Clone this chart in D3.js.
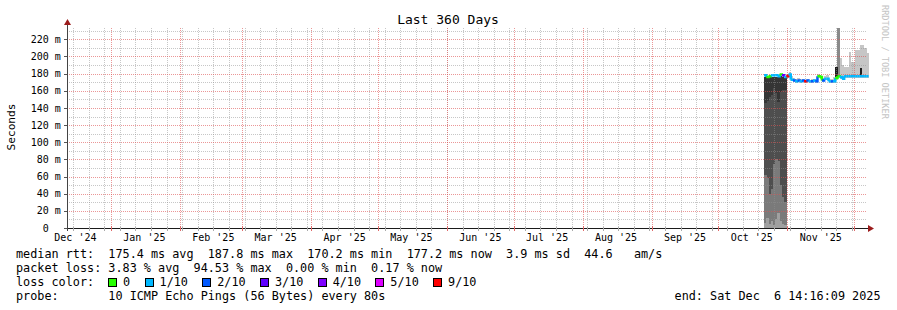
<!DOCTYPE html>
<html>
<head>
<meta charset="utf-8">
<script src="https://cdn.jsdelivr.net/npm/d3@7"></script>
<style>
  body { margin: 0; background: #fff; }
  text { font-family: "DejaVu Sans Mono", monospace; fill: #000; white-space: pre; }
</style>
</head>
<body>
<div id="chart"></div>
<script>
/* Axis ticks and labels */
const yTicks = [0, 20, 40, 60, 80, 100, 120, 140, 160, 180, 200, 220];
const yMinor = [10, 30, 50, 70, 90, 110, 130, 150, 170, 190, 210, 230];

/* Loss colour legend */
const lossLevels = [0, 1, 2, 3, 4, 5, 9];
const lossColors = ["#26ff00", "#00b8ff", "#0059ff", "#5e00ff", "#7e00ff", "#dd00ff", "#ff0000"];
const lossLabels = ["0", "1/10", "2/10", "3/10", "4/10", "5/10", "9/10"];

/* Daily samples from Oct 21 2025 (ms) */
const firstSample = new Date(2025, 9, 21, 12);
const medianRtt = [178, 176, 177, 178, 178, 178, 177, 179, 178, 176,
                   177, 179, 173, 172, 171, 172, 171, 172, 171, 172,
                   171, 171, 172, 171, 177, 176, 172, 174, 174, 171,
                   171, 171, 175, 177, 176, 174, 177, 177, 177, 177,
                   177, 177, 177, 177, 177, 177, 177];
const lossTenths = [1, 0, 0, 1, 1, 1, 1, 0, 3, 1,
                    9, 1, 1, 2, 1, 2, 1, 2, 9, 2,
                    1, 2, 1, 2, 0, 0, 2, 1, 1, 1,
                    2, 1, 0, 0, 1, 1, 1, 1, 1, 1,
                    1, 1, 1, 1, 1, 1, 1];

/* Outage block (first 10 samples) */
const blockTop       = [176, 175, 176, 176, 176, 176, 176, 177, 176, 175];
const blockDarkFloor = [146, 148, 153, 155, 163, 157, 147, 158, 161, 161];
const blockLight     = [62, 58, 40, 45, 75, 80, 78, 50, 36, 30];
const blockFloor     = [6, 12, 5, 8, 4, 10, 18, 8, 5, 4];

/* Smoke band around the median */
const smokeLo = [null, null, null, null, null, null, null, null, null, null,
                 175, 176, 171, 170, 169, 170, 169, 170, 169, 170,
                 169, 169, 170, 169, 175, 174, 170, 172, 172, 169,
                 169, 169, 173, 175, 174, 172, 175, 175, 175, 175,
                 175, 175, 175, 175, 175, 175, 175];
const smokeHi = [null, null, null, null, null, null, null, null, null, null,
                 180, 182, 177, 175, 174, 175, 174, 174, 173, 174,
                 173, 174, 174, 173, 179, 178, 175, 177, 178, 174,
                 174, 176, 180, 198, 198, 190, 188, 188, 205, 193,
                 193, 207, 207, 213, 213, 210, 204];
const spikeLo = [null, null, null, null, null, null, null, null, null, null,
                 null, null, null, null, null, null, null, null, null, null,
                 null, null, null, null, null, null, null, null, null, null,
                 null, null, 176, 178, null, null, null, null, null, null,
                 null, null, null, 177, null, null, null];
const spikeHi = [null, null, null, null, null, null, null, null, null, null,
                 null, null, null, null, null, null, null, null, null, null,
                 null, null, null, null, null, null, null, null, null, null,
                 null, null, 188, 233, null, null, null, null, null, null,
                 null, null, null, 186, null, null, null];

const width = 897, height = 310;
const plot = { left: 67, right: 867, top: 28, bottom: 228 };
const tStart = new Date(2024, 11, 12, 5, 20);
const tEnd = new Date(2025, 11, 6, 18, 30);

const svg = d3.select("#chart").append("svg")
  .attr("width", width)
  .attr("height", height);

svg.append("rect").attr("width", width).attr("height", height).attr("fill", "#fff");

const x = d3.scaleTime().domain([tStart, tEnd]).range([plot.left, plot.right]);
const y = d3.scaleLinear().domain([0, 233.2]).range([plot.bottom, plot.top]);

const samples = medianRtt.map((v, i) => ({
  t0: d3.timeDay.offset(firstSample, i),
  t1: d3.timeDay.offset(firstSample, i + 1),
  median: v,
  loss: lossTenths[i],
  i
}));

/* Title */
svg.append("text")
  .attr("x", 448).attr("y", 24)
  .attr("text-anchor", "middle")
  .attr("font-size", "13px")
  .text("Last 360 Days");

/* Watermark */
svg.append("text")
  .attr("transform", "translate(882,5) rotate(90)")
  .attr("font-size", "8.6px")
  .style("fill", "#c4c4c4")
  .text("RRDTOOL / TOBI OETIKER");

/* Y label */
svg.append("text")
  .attr("transform", "translate(15,127) rotate(-90)")
  .attr("text-anchor", "middle")
  .attr("font-size", "11.2px")
  .text("Seconds");

/* Data: outage block and smoke */
const g = svg.append("g").attr("shape-rendering", "crispEdges");

const band = (rows, lo, hi, color) => {
  g.append("g").selectAll("rect")
    .data(rows.filter(d => lo(d) != null && hi(d) != null))
    .join("rect")
      .attr("x", d => x(d.t0))
      .attr("width", d => x(d.t1) - x(d.t0) + 0.3)
      .attr("y", d => y(hi(d)))
      .attr("height", d => y(lo(d)) - y(hi(d)))
      .attr("fill", color);
};

const block = samples.slice(0, blockTop.length);
band(block, d => 0, d => blockTop[d.i], "#4e4e4e");
band(block, d => blockDarkFloor[d.i], d => blockTop[d.i], "#353535");
band(block, d => 0, d => blockLight[d.i], "#7a7a7a");
band(block, d => 0, d => blockFloor[d.i], "#a0a0a0");

band(samples, d => smokeLo[d.i], d => smokeHi[d.i], "#c6c6c6");
band(samples.filter(d => d.i !== 32 && d.i !== 43), d => spikeLo[d.i], d => spikeHi[d.i], "#8a8a8a");
band(samples.filter(d => d.i === 32 || d.i === 43), d => spikeLo[d.i], d => spikeHi[d.i], "#1e1e1e");

/* Grid */
const grid = svg.append("g").attr("shape-rendering", "crispEdges").attr("stroke-dasharray", "1,1");
const minorColor = "rgba(143,143,143,0.5)";
const majorColor = "rgba(222,81,81,0.6)";

grid.selectAll(".vminor")
  .data(d3.timeSunday.range(tStart, tEnd))
  .join("line")
    .attr("x1", d => Math.round(x(d)) + 0.5).attr("x2", d => Math.round(x(d)) + 0.5)
    .attr("y1", plot.top).attr("y2", plot.bottom)
    .attr("stroke", minorColor);

grid.selectAll(".hminor")
  .data(yMinor)
  .join("line")
    .attr("x1", plot.left).attr("x2", plot.right)
    .attr("y1", d => Math.round(y(d)) + 0.5).attr("y2", d => Math.round(y(d)) + 0.5)
    .attr("stroke", minorColor);

grid.selectAll(".vmajor")
  .data(d3.timeMonth.range(tStart, tEnd))
  .join("line")
    .attr("x1", d => Math.round(x(d)) + 0.5).attr("x2", d => Math.round(x(d)) + 0.5)
    .attr("y1", plot.top).attr("y2", plot.bottom)
    .attr("stroke", majorColor);

grid.selectAll(".hmajor")
  .data(yTicks.filter(d => d > 0))
  .join("line")
    .attr("x1", plot.left).attr("x2", plot.right)
    .attr("y1", d => Math.round(y(d)) + 0.5).attr("y2", d => Math.round(y(d)) + 0.5)
    .attr("stroke", majorColor);

/* Median line coloured by loss */
const stepLine = d3.line().x(d => d[0]).y(d => d[1]).curve(d3.curveStepAfter);
svg.append("g").selectAll("path")
  .data(samples)
  .join("path")
    .attr("d", d => {
      const next = samples[d.i + 1];
      const pts = [[x(d.t0), y(d.median)], [x(d.t1), next ? y(next.median) : y(d.median)]];
      return stepLine(pts);
    })
    .attr("fill", "none")
    .attr("stroke-width", 2.5)
    .attr("stroke", d => lossColors[lossLevels.indexOf(d.loss)]);

/* Axes */
const axes = svg.append("g").attr("shape-rendering", "crispEdges");
axes.append("line")
  .attr("x1", plot.left - 3).attr("x2", plot.right + 2)
  .attr("y1", plot.bottom + 0.5).attr("y2", plot.bottom + 0.5)
  .attr("stroke", "#1a1a1a");
axes.append("line")
  .attr("x1", plot.left + 0.5).attr("x2", plot.left + 0.5)
  .attr("y1", plot.bottom + 3).attr("y2", plot.top - 4)
  .attr("stroke", "#444");

svg.append("path")
  .attr("d", `M${plot.right + 1},${plot.bottom - 3}L${plot.right + 7},${plot.bottom + 0.5}L${plot.right + 1},${plot.bottom + 4}Z`)
  .attr("fill", "#9b1c1c");
svg.append("path")
  .attr("d", `M${plot.left - 3},${plot.top - 3}L${plot.left + 0.5},${plot.top - 9}L${plot.left + 4},${plot.top - 3}Z`)
  .attr("fill", "#9b1c1c");

/* Axis ticks */
axes.selectAll(".yt")
  .data(yTicks)
  .join("line")
    .attr("x1", plot.left - 3).attr("x2", plot.left)
    .attr("y1", d => Math.round(y(d)) + 0.5).attr("y2", d => Math.round(y(d)) + 0.5)
    .attr("stroke", "#555");
axes.selectAll(".xtw")
  .data(d3.timeSunday.range(tStart, tEnd))
  .join("line")
    .attr("x1", d => Math.round(x(d)) + 0.5).attr("x2", d => Math.round(x(d)) + 0.5)
    .attr("y1", plot.bottom - 1).attr("y2", plot.bottom + 3)
    .attr("stroke", "#aaa");
axes.selectAll(".xtm")
  .data(d3.timeMonth.range(tStart, tEnd))
  .join("line")
    .attr("x1", d => Math.round(x(d)) + 0.5).attr("x2", d => Math.round(x(d)) + 0.5)
    .attr("y1", plot.bottom - 2).attr("y2", plot.bottom + 3)
    .attr("stroke", "#e06a6a");

/* Y labels */
svg.append("g").selectAll("text")
  .data(yTicks)
  .join("text")
    .attr("x", 48.7)
    .attr("y", d => y(d) + 3.6)
    .attr("text-anchor", "end")
    .attr("font-size", "10px")
    .text(d => d);
svg.append("g").selectAll("text")
  .data(yTicks.filter(d => d > 0))
  .join("text")
    .attr("x", 54.7)
    .attr("y", d => y(d) + 3.6)
    .attr("font-size", "10px")
    .text("m");

/* X labels: centred mid-month */
const fmt = d3.timeFormat("%b '%y");
svg.append("g").selectAll("text")
  .data(d3.timeMonth.range(d3.timeMonth.floor(tStart), tEnd).map(d => d3.timeDay.offset(d, 15)).filter(d => d > tStart && d < tEnd))
  .join("text")
    .attr("x", d => x(d))
    .attr("y", 241)
    .attr("text-anchor", "middle")
    .attr("font-size", "10px")
    .text(d => fmt(d));

/* Legend */
const legendFont = "11.8px";
svg.append("text").attr("x", 16).attr("y", 258).attr("font-size", legendFont)
  .text("median rtt:  175.4 ms avg  187.8 ms max  170.2 ms min  177.2 ms now  3.9 ms sd  44.6   am/s");
svg.append("text").attr("x", 16).attr("y", 272).attr("font-size", legendFont)
  .text("packet loss: 3.83 % avg  94.53 % max  0.00 % min  0.17 % now");
svg.append("text").attr("x", 16).attr("y", 286).attr("font-size", legendFont)
  .text("loss color:");
svg.append("text").attr("x", 16).attr("y", 300).attr("font-size", legendFont)
  .text("probe:       10 ICMP Echo Pings (56 Bytes) every 80s");
svg.append("text").attr("x", 880.5).attr("y", 300).attr("font-size", legendFont)
  .attr("text-anchor", "end")
  .text("end: Sat Dec  6 14:16:09 2025");

let sx = 108;
const swatchX = lossLabels.map(l => { const cur = sx; sx += 15 + l.length * 7.05 + 14.5; return cur; });
const lg = svg.append("g");
lg.selectAll("rect")
  .data(lossLabels)
  .join("rect")
    .attr("x", (d, i) => Math.round(swatchX[i]) + 0.5)
    .attr("y", 278.5)
    .attr("width", 8).attr("height", 8)
    .attr("fill", (d, i) => lossColors[i])
    .attr("stroke", "#000");
lg.selectAll("text")
  .data(lossLabels)
  .join("text")
    .attr("x", (d, i) => swatchX[i] + 15)
    .attr("y", 286)
    .attr("font-size", legendFont)
    .text(d => d);
</script>
</body>
</html>
